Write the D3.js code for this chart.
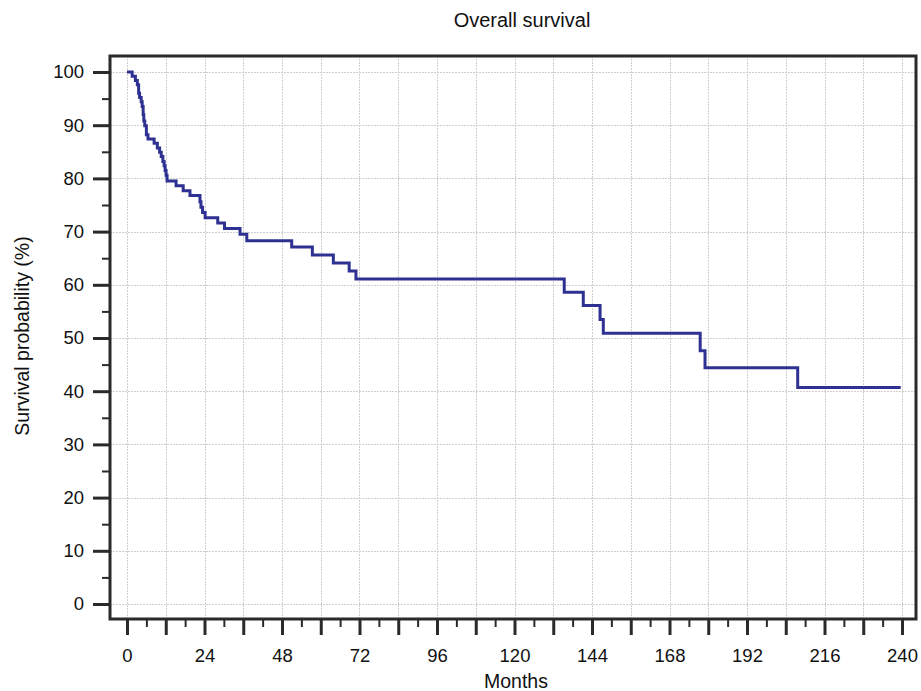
<!DOCTYPE html>
<html>
<head>
<meta charset="utf-8">
<script src="https://cdn.jsdelivr.net/npm/d3@7"></script>
<style>
  body { margin: 0; background: #fff; }
  text { font-family: "Liberation Sans", Arial, sans-serif; fill: #111; }
</style>
</head>
<body>
<div id="chart"></div>
<script>
// Kaplan-Meier steps: time (months) and survival (%)
const times = [0, 1.6, 2.6, 3.2, 3.6, 3.9, 4.4, 4.7, 5.0, 5.2, 5.5, 6.0, 6.5,
  8.4, 9.4, 10.1, 10.6, 11.1, 11.5, 11.8, 12.1, 12.4, 15.2, 17.4, 19.5,
  22.6, 22.9, 23.4, 24.2, 28.1, 30.2, 35.0, 37.1, 51.0, 57.4, 63.9, 68.8,
  70.9, 135.4, 141.3, 146.5, 147.5, 177.5, 179.0, 207.7];
const survival = [100, 99.2, 98.4, 97.6, 96.0, 95.2, 94.4, 93.5, 92.0, 90.8,
  89.9, 88.2, 87.4, 86.6, 85.7, 84.9, 84.1, 83.2, 82.4, 81.5, 80.6, 79.5,
  78.6, 77.7, 76.8, 75.6, 74.6, 73.6, 72.6, 71.6, 70.6, 69.5, 68.3, 67.1,
  65.6, 64.1, 62.6, 61.1, 58.6, 56.1, 53.5, 50.9, 47.6, 44.4, 40.7];
const lastTime = 239.6;

const xTickLabels = [0, 24, 48, 72, 96, 120, 144, 168, 192, 216, 240];
const xMajorTicks = d3.range(0, 241, 12);
const xMinorTicks = d3.range(6, 241, 12);
const yTickLabels = [0, 10, 20, 30, 40, 50, 60, 70, 80, 90, 100];
const yMinorTicks = d3.range(5, 100, 10);

const width = 921, height = 691;
const plotLeft = 110, plotRight = 916, plotTop = 56, plotBottom = 619;

const x = d3.scaleLinear().domain([0, 240]).range([127, 902]);
const y = d3.scaleLinear().domain([0, 100]).range([604, 72]);

const svg = d3.select("#chart").append("svg")
  .attr("width", width)
  .attr("height", height);

// grid, light dotted
const grid = svg.append("g")
  .attr("stroke", "#cfcfcf")
  .attr("stroke-width", 1)
  .attr("stroke-dasharray", "2,1");

grid.selectAll("line.v")
  .data(xMajorTicks)
  .enter()
  .append("line")
  .attr("x1", d => Math.round(x(d)) + 0.5)
  .attr("x2", d => Math.round(x(d)) + 0.5)
  .attr("y1", plotTop)
  .attr("y2", plotBottom);

grid.selectAll("line.h")
  .data(yTickLabels)
  .enter()
  .append("line")
  .attr("y1", d => Math.round(y(d)) + 0.5)
  .attr("y2", d => Math.round(y(d)) + 0.5)
  .attr("x1", plotLeft)
  .attr("x2", plotRight);

// survival curve
const pts = times.map((t, i) => [t, survival[i]]);
pts.push([lastTime, survival[survival.length - 1]]);
const line = d3.line()
  .x(d => x(d[0]))
  .y(d => y(d[1]))
  .curve(d3.curveStepAfter);

svg.append("path")
  .datum(pts)
  .attr("d", line)
  .attr("fill", "none")
  .attr("stroke", "#2e3192")
  .attr("stroke-width", 3);

// frame
svg.append("rect")
  .attr("x", plotLeft)
  .attr("y", plotTop)
  .attr("width", plotRight - plotLeft)
  .attr("height", plotBottom - plotTop)
  .attr("fill", "none")
  .attr("stroke", "#2a2a2a")
  .attr("stroke-width", 3);

// x axis
const xAxis = d3.axisBottom(x)
  .tickValues(xMajorTicks)
  .tickSize(16)
  .tickFormat(d => xTickLabels.includes(d) ? d : "");
const gx = svg.append("g")
  .attr("transform", `translate(0,${plotBottom})`)
  .call(xAxis);
gx.select(".domain").remove();
gx.selectAll(".tick line").attr("stroke", "#2a2a2a").attr("stroke-width", 3);
gx.selectAll(".tick text")
  .attr("font-size", 18.5)
  .attr("font-family", "Liberation Sans, Arial, sans-serif")
  .attr("fill", "#111")
  .attr("dy", null)
  .attr("y", 43);

const gxm = svg.append("g")
  .attr("transform", `translate(0,${plotBottom})`)
  .call(d3.axisBottom(x).tickValues(xMinorTicks).tickSize(8).tickFormat(""));
gxm.select(".domain").remove();
gxm.selectAll(".tick line").attr("stroke", "#2a2a2a").attr("stroke-width", 2);

// y axis
const yAxis = d3.axisLeft(y)
  .tickValues(yTickLabels)
  .tickSize(17)
  .tickPadding(9);
const gy = svg.append("g")
  .attr("transform", `translate(${plotLeft},0)`)
  .call(yAxis);
gy.select(".domain").remove();
gy.selectAll(".tick line").attr("stroke", "#2a2a2a").attr("stroke-width", 3);
gy.selectAll(".tick text")
  .attr("font-size", 18.5)
  .attr("font-family", "Liberation Sans, Arial, sans-serif")
  .attr("fill", "#111");

const gym = svg.append("g")
  .attr("transform", `translate(${plotLeft},0)`)
  .call(d3.axisLeft(y).tickValues(yMinorTicks).tickSize(8).tickFormat(""));
gym.select(".domain").remove();
gym.selectAll(".tick line").attr("stroke", "#2a2a2a").attr("stroke-width", 2);

// titles
svg.append("text")
  .attr("x", 522)
  .attr("y", 27)
  .attr("text-anchor", "middle")
  .attr("font-size", 20)
  .text("Overall survival");

svg.append("text")
  .attr("x", 516)
  .attr("y", 688)
  .attr("text-anchor", "middle")
  .attr("font-size", 19.5)
  .text("Months");

svg.append("text")
  .attr("transform", "translate(29,336) rotate(-90)")
  .attr("text-anchor", "middle")
  .attr("font-size", 19.5)
  .text("Survival probability (%)");
</script>
</body>
</html>
